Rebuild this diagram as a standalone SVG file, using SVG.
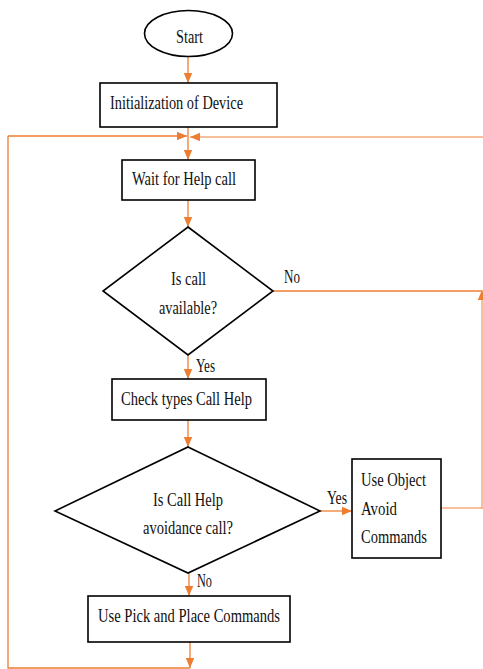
<svg xmlns="http://www.w3.org/2000/svg" width="483" height="669" viewBox="0 0 483 669">
<style>
.box{fill:#fff;stroke:#000;stroke-width:1.6}
.t{font-family:"Liberation Serif","Times New Roman",serif;font-size:19.5px;fill:#111}
.c{fill:none;stroke:#ED7D31;stroke-width:1.3}
.cl{fill:none;stroke:#F4AA7A;stroke-width:1.5}
</style>
<defs>
<marker id="ah" markerUnits="userSpaceOnUse" markerWidth="10" markerHeight="10" viewBox="0 0 10 10" refX="10" refY="5" orient="auto">
<path d="M0,0.8 L10,5 L0,9.2 Z" fill="#ED7D31"/>
</marker>
</defs>
<rect width="483" height="669" fill="#fff"/>
<g id="connectors">
<path class="c" d="M188,57 V83" marker-end="url(#ah)"/>
<path class="c" d="M188,127 V160" marker-end="url(#ah)"/>
<path class="c" d="M8,136 H187" marker-end="url(#ah)"/>
<path class="cl" d="M483,137 H190" marker-end="url(#ah)"/>
<path class="c" d="M188,200 V227" marker-end="url(#ah)"/>
<path class="c" d="M273,291 H482"/>
<path class="cl" d="M482,509 V290" marker-end="url(#ah)"/>
<path class="c" d="M188,355 V379" marker-end="url(#ah)"/>
<path class="c" d="M188,420 V447" marker-end="url(#ah)"/>
<path class="c" d="M320,511 H352" marker-end="url(#ah)"/>
<path class="cl" d="M441,508 H483"/>
<path class="c" d="M189,573 V596" marker-end="url(#ah)"/>
<path class="c" d="M190,642 V668" marker-end="url(#ah)"/>
<path class="c" d="M190,668 H8 V136"/>
</g>
<g id="start">
<ellipse cx="188.5" cy="33.5" rx="44" ry="23" class="box"/>
<text class="t" x="176" y="43" textLength="27" lengthAdjust="spacingAndGlyphs">Start</text>
</g>
<g id="init">
<rect x="100" y="83" width="177" height="44" class="box"/>
<text class="t" x="110" y="109" textLength="133" lengthAdjust="spacingAndGlyphs">Initialization of Device</text>
</g>
<g id="wait">
<rect x="122" y="160" width="133" height="40" class="box"/>
<text class="t" x="132" y="185" textLength="104" lengthAdjust="spacingAndGlyphs">Wait for Help call</text>
</g>
<g id="decision1">
<path d="M188,227 L273,291 L188,355 L103,291 Z" class="box"/>
<text class="t" x="171" y="285" textLength="35" lengthAdjust="spacingAndGlyphs">Is call</text>
<text class="t" x="159" y="314" textLength="58" lengthAdjust="spacingAndGlyphs">available?</text>
</g>
<g id="labels">
<text class="t" x="284" y="283" textLength="16" lengthAdjust="spacingAndGlyphs">No</text>
<text class="t" x="196" y="372" textLength="19" lengthAdjust="spacingAndGlyphs">Yes</text>
<text class="t" x="327" y="504" textLength="20" lengthAdjust="spacingAndGlyphs">Yes</text>
<text class="t" x="197" y="587" textLength="15" lengthAdjust="spacingAndGlyphs">No</text>
</g>
<g id="check">
<rect x="112" y="379" width="154" height="41" class="box"/>
<text class="t" x="121" y="405" textLength="131" lengthAdjust="spacingAndGlyphs">Check types Call Help</text>
</g>
<g id="decision2">
<path d="M188,447 L320,511 L188,573 L55,511 Z" class="box"/>
<text class="t" x="153" y="506" textLength="70" lengthAdjust="spacingAndGlyphs">Is Call Help</text>
<text class="t" x="143" y="534" textLength="90" lengthAdjust="spacingAndGlyphs">avoidance call?</text>
</g>
<g id="avoid">
<rect x="352" y="459" width="89" height="99" class="box"/>
<text class="t" x="361" y="486" textLength="65" lengthAdjust="spacingAndGlyphs">Use Object</text>
<text class="t" x="361" y="515" textLength="36" lengthAdjust="spacingAndGlyphs">Avoid</text>
<text class="t" x="361" y="543" textLength="66" lengthAdjust="spacingAndGlyphs">Commands</text>
</g>
<g id="pick">
<rect x="88" y="596" width="202" height="46" class="box"/>
<text class="t" x="98" y="622" textLength="182" lengthAdjust="spacingAndGlyphs">Use Pick and Place Commands</text>
</g>
</svg>
